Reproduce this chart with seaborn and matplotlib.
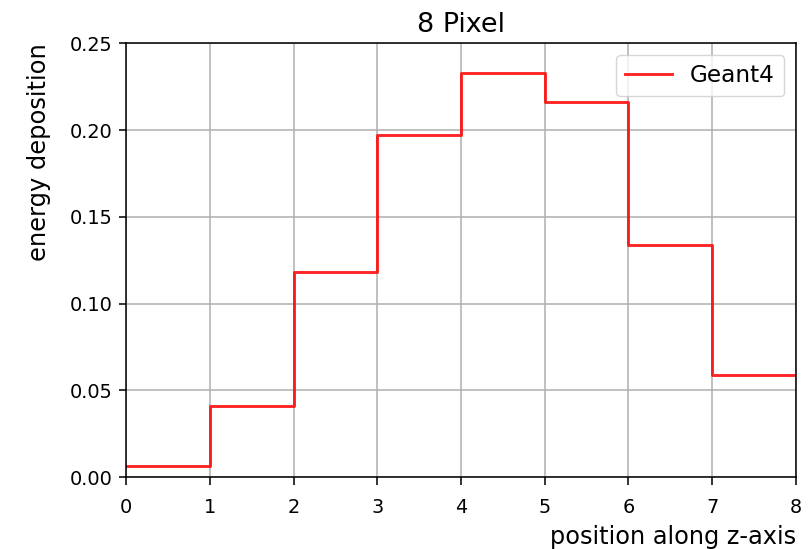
import numpy as np
import pandas as pd
import matplotlib
matplotlib.use("Agg")
import matplotlib.pyplot as plt
import seaborn as sns

# ---------------- data ----------------
edges = [0, 1, 2, 3, 4, 5, 6, 7, 8]
energy = [0.0063, 0.041, 0.118, 0.197, 0.233, 0.216, 0.134, 0.059]

# steps-post needs last value repeated at right edge
df = pd.DataFrame({"z": edges, "E": energy + [energy[-1]]})

s = 1.39  # picture looks like an upscaled default figure
plt.rcParams["font.family"] = ["DejaVu Sans"]
plt.rcParams["font.size"] = 10 * s
plt.rcParams["axes.linewidth"] = 0.8 * s
plt.rcParams["xtick.major.width"] = 0.8 * s
plt.rcParams["ytick.major.width"] = 0.8 * s
plt.rcParams["xtick.major.size"] = 5.5
plt.rcParams["ytick.major.size"] = 3.5 * s
plt.rcParams["xtick.major.pad"] = 3.5 * s + 5
plt.rcParams["ytick.major.pad"] = 3.5 * s
plt.rcParams["axes.titlepad"] = 6 * s

fig, ax = plt.subplots(figsize=(8.08, 5.49), dpi=100)
sns.lineplot(data=df, x="z", y="E", drawstyle="steps-post", color="red",
             alpha=0.85, linewidth=1.5 * s, label="Geant4", ax=ax)

ax.set_xlim(0, 8)
ax.set_ylim(0, 0.25)
ax.set_xticks(range(0, 9))
ax.set_yticks([0.0, 0.05, 0.10, 0.15, 0.20, 0.25])
ax.grid(True, color="#b0b0b0", linewidth=0.8 * s)
ax.set_title("8 Pixel", fontsize=14 * s)
ax.set_xlabel("position along z-axis", loc="right", fontsize=12.4 * s, labelpad=4 * s)
ax.set_ylabel("energy deposition", loc="top", fontsize=12.5 * s, labelpad=4 * s + 8)
ax.legend(loc="upper right", fontsize=12 * s)

fig.subplots_adjust(left=0.156, right=0.985, top=0.921, bottom=0.131)
fig.savefig("out.png", dpi=100)
